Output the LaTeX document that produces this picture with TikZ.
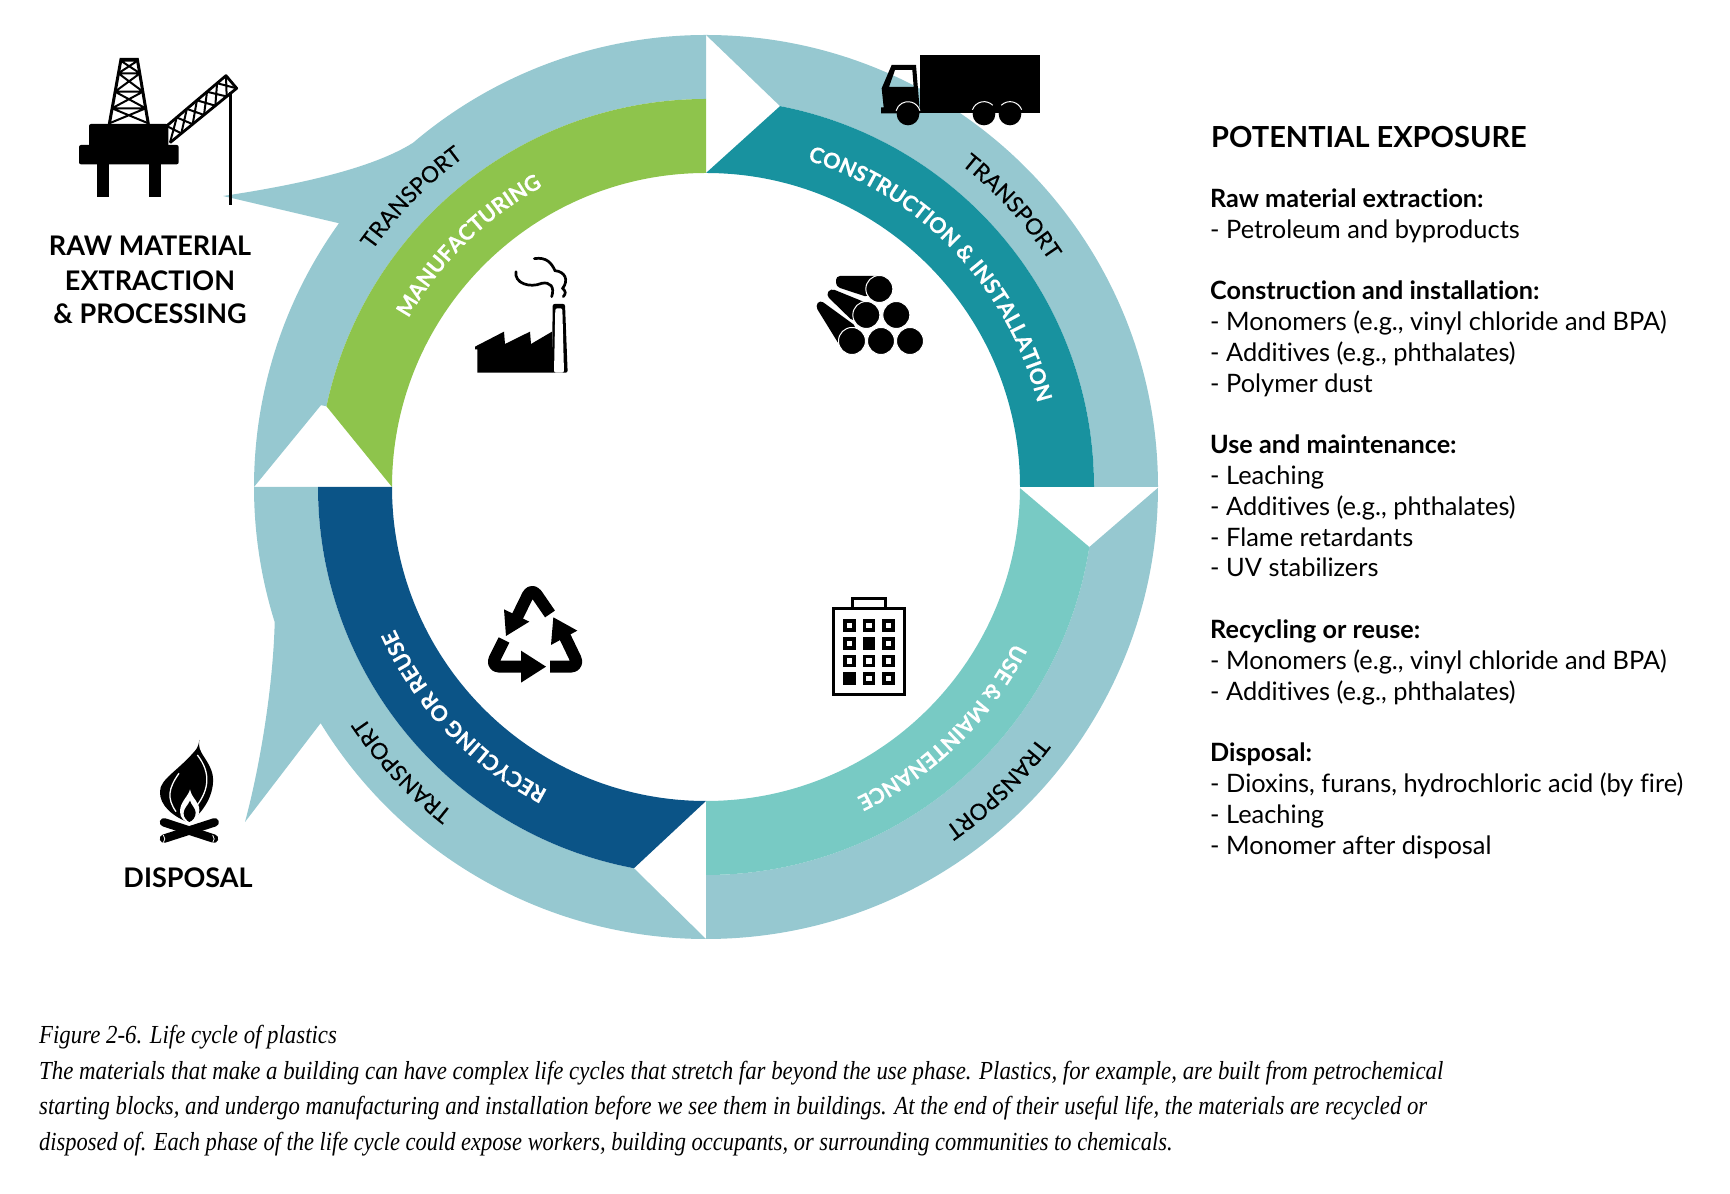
\documentclass[tikz,border=0pt]{standalone}
\usepackage{fontspec}
\setmainfont[Ligatures=NoCommon]{Lato}
\newfontfamily\capfont[FakeStretch=0.875]{Liberation Serif}
\newfontfamily\capfontw[FakeStretch=0.878]{Liberation Serif}
\newfontfamily\capfontn[FakeStretch=0.863]{Liberation Serif}
\newfontfamily\ringfont[FakeBold=0.35]{Lato}
\newfontfamily\ringfontk[FakeBold=0.2]{Lato}
\usetikzlibrary{decorations.text,calc}
\definecolor{bandc}{HTML}{96C8D0}
\definecolor{greenc}{HTML}{8EC44C}
\definecolor{tealc}{HTML}{18929F}
\definecolor{lteal}{HTML}{78CAC4}
\definecolor{navyc}{HTML}{0B5487}
\newcommand\lblw{\fontsize{21.5}{21.5}\selectfont\ringfont\bfseries\color{white}}
\newcommand\lblk{\fontsize{22.5}{22.5}\selectfont\ringfontk\color{black}}
\tikzset{
  band/.style={fill=bandc},
  ringtext/.style={decorate,decoration={text along path,text align={center},text={#1}}},
  headtxt/.style={anchor=base west,inner sep=0pt,font=\fontsize{29}{29}\selectfont\bfseries},
  subtxt/.style={anchor=base west,inner sep=0pt,font=\fontsize{25.2}{25.2}\selectfont\bfseries},
  itemtxt/.style={anchor=base west,inner sep=0pt,font=\fontsize{25.4}{25.4}\selectfont},
  captxt/.style={anchor=base west,inner sep=0pt,font=\fontsize{26}{26}\selectfont\capfont\itshape},
  captxtw/.style={anchor=base west,inner sep=0pt,font=\fontsize{26}{26}\selectfont\capfontw\itshape},
  captxtn/.style={anchor=base west,inner sep=0pt,font=\fontsize{26}{26}\selectfont\capfontn\itshape},
  iconlbl/.style={anchor=base,inner sep=0pt,font=\fontsize{27}{27}\selectfont\bfseries},
}
\begin{document}
\begin{tikzpicture}[x=1pt,y=1pt]
\useasboundingbox (0,0) rectangle (1730,1194);
% ---------- ring, centred on the cycle
\begin{scope}[shift={(706pt,707pt)}]
% transport bands
\path[band] (180:452) arc[start angle=180,end angle=144.3,radius=452] -- (-483,291)
  .. controls (-416,301) and (-336,317) .. (130.4:452)
  arc[start angle=130.4,end angle=90,radius=452] -- (90:388)
  arc[start angle=90,end angle=168,radius=388] -- (168:393.6) -- cycle;
\path[band] (90:452) arc[start angle=90,end angle=0,radius=452] -- (0:388)
  arc[start angle=0,end angle=79,radius=388] -- cycle;
\path[band] (-0.1:452) -- (-8.9:388) arc[start angle=-8.9,end angle=-90,radius=388]
  -- (-90:452) arc[start angle=-90,end angle=-0.1,radius=452] -- cycle;
\path[band] (-90:452) -- (259.3:388) arc[start angle=259.3,end angle=180,radius=388]
  -- (180:452) arc[start angle=180,end angle=197.4,radius=452]
  .. controls (-433,-203) and (-447,-283) .. (-461,-335)
  -- (211.5:452) arc[start angle=211.5,end angle=270,radius=452] -- cycle;
% coloured phases
\path[fill=greenc] (180:314) -- (168:388) arc[start angle=168,end angle=90,radius=388]
  -- (90:314) arc[start angle=90,end angle=180,radius=314] -- cycle;
\path[fill=tealc] (90:314) -- (79:388) arc[start angle=79,end angle=0,radius=388]
  -- (0:314) arc[start angle=0,end angle=90,radius=314] -- cycle;
\path[fill=lteal] (-0.2:314) -- (-8.9:388) arc[start angle=-8.9,end angle=-90,radius=388]
  -- (-90:314) arc[start angle=-90,end angle=0,radius=314] -- cycle;
\path[fill=navyc] (-90:314) -- (259.3:388) arc[start angle=259.3,end angle=180,radius=388]
  -- (180:314) arc[start angle=180,end angle=270,radius=314] -- cycle;
% curved labels
\path[ringtext={|\lblw|CONSTRUCTION {\&} INSTALLATION}] (82.5:342) arc[start angle=82.5,end angle=4.5,radius=342];
\path[ringtext={|\lblw|MANUFACTURING}] (165.5:342) arc[start angle=165.5,end angle=103.5,radius=342];
\path[ringtext={|\lblw|USE {\&} MAINTENANCE}] (-5:345) arc[start angle=-5,end angle=-86,radius=345];
\path[ringtext={|\lblw|RECYCLING OR REUSE}] (265:342) arc[start angle=265,end angle=182,radius=342];
\path[ringtext={|\lblk|TRANSPORT}] (160:409) arc[start angle=160,end angle=111,radius=409];
\path[ringtext={|\lblk|TRANSPORT}] (67.5:411) arc[start angle=67.5,end angle=17.5,radius=411];
\path[ringtext={|\lblk|TRANSPORT}] (-21:416) arc[start angle=-21,end angle=-71,radius=416];
\path[ringtext={|\lblk|TRANSPORT}] (248:412) arc[start angle=248,end angle=198,radius=412];
\end{scope}
% ---------- oil rig
\begin{scope}[shift={(40pt,1164pt)},x=0.33333pt,y=-0.33333pt]
\fill[rounded corners=2pt] (147,282) rectangle (385,350);
\fill[rounded corners=2pt] (117,345) rectangle (416,403);
\fill (170,400) rectangle (207,502);
\fill (326,400) rectangle (363,502);
\draw[line width=3pt] (208,282) -- (243,88) -- (292,88) -- (325,282);
\draw[line width=2pt] (242,92) -- (293,92) (242,92) -- (300,130) (293,92) -- (235,130)
  (235,130) -- (300,130) (235,130) -- (309,185) (300,130) -- (225,185)
  (225,185) -- (309,185) (225,185) -- (317,235) (309,185) -- (216,235)
  (216,235) -- (317,235) (216,235) -- (325,280) (317,235) -- (208,280);
\coordinate (boomA) at (380,288);
\coordinate (boomB) at (558,137);
\coordinate (boomC) at (390,338);
\coordinate (boomD) at (590,175);
\draw[line width=2.8pt,line join=round] (boomA) -- (boomB) -- (boomD) -- (boomC);
\foreach \s/\e in {0/0.17,0.17/0.34,0.34/0.51,0.51/0.68,0.68/0.85,0.85/1}{
  \draw[line width=2pt] ($(boomA)!\s!(boomB)$) -- ($(boomC)!\e!(boomD)$)
    ($(boomC)!\s!(boomD)$) -- ($(boomA)!\e!(boomB)$);}
\draw[line width=2.8pt] (572,185) -- (572,525);
\end{scope}
% ---------- truck
\begin{scope}[shift={(680pt,1174pt)},x=0.33333pt,y=-0.33333pt]
\fill (720,105) rectangle (1080,278);
\fill[even odd rule] (603,280) -- (603,262) -- (611,262) -- (605,205) -- (635,135) -- (708,135) -- (720,280) -- cycle
  (645,150) -- (697,150) -- (701,201) -- (627,201) -- cycle;
\fill (684,282) circle[radius=34];
\fill (912,282) circle[radius=34];
\fill (990,282) circle[radius=34];
\draw[white,line width=1pt] (684,282) ++(195:37) arc[start angle=195,end angle=345,radius=37];
\draw[white,line width=1pt] (912,282) ++(200:37) arc[start angle=200,end angle=315,radius=37];
\draw[white,line width=1pt] (990,282) ++(225:37) arc[start angle=225,end angle=340,radius=37];
\end{scope}
% ---------- factory, pipes, recycling, building
\begin{scope}[shift={(440pt,954pt)},x=0.33333pt,y=-0.33333pt]
% factory
\fill (105,320) -- (192,275) -- (195,312) -- (270,275) -- (273,312) -- (336,275) -- (340,398) -- (112,398) -- (112,328) -- (105,328) -- cycle;
\fill[rounded corners=2pt] (336,398) -- (338,192) -- (375,192) -- (383,398) -- cycle;
\fill[white,rounded corners=2pt] (342,398) -- (346,205) -- (367,205) -- (372,398) -- cycle;
\draw[line width=2.7pt,line cap=round] (228,95) .. controls (222,130) and (270,145) .. (305,130)
  .. controls (330,125) and (345,140) .. (335,170);
\draw[line width=2.7pt,line cap=round] (283,56) .. controls (320,50) and (335,70) .. (345,92)
  .. controls (375,95) and (387,120) .. (368,145) .. controls (378,155) and (378,160) .. (370,170);
% pipes
\fill[rounded corners=4pt] (1188,108) -- (1320,108) -- (1285,172) -- (1188,140) -- cycle;
\fill[rounded corners=4pt] (1172,145) -- (1290,193) -- (1240,245) -- (1158,165) -- cycle;
\fill[rounded corners=4pt] (1140,180) -- (1250,260) -- (1200,318) -- (1126,198) -- cycle;
\foreach \cx/\cy in {1318/147,1279/225,1369/225,1236/303,1323/303,1410/303}{
  \draw[white,line width=1pt,fill=black] (\cx,\cy) circle[radius=40.5];}
% recycling symbol
\draw[line width=12pt,line join=round,rounded corners=9pt] (330,1122) -- (275,1042) -- (232,1130);
\fill (192,1108) -- (268,1145) -- (198,1188) -- cycle;
\draw[line width=12pt,line join=round,rounded corners=9pt] (370,1180) -- (418,1280) -- (330,1280);
\fill (340,1132) -- (412,1172) -- (333,1215) -- cycle;
\draw[line width=12pt,line join=round,rounded corners=9pt] (245,1280) -- (152,1280) -- (192,1200);
\fill (243,1232) -- (318,1280) -- (243,1328) -- cycle;
% building
\draw[line width=3pt] (1181,1107) rectangle (1392,1364);
\draw[line width=3pt] (1238,1105) -- (1238,1075) -- (1336,1075) -- (1336,1105);
\foreach \yy in {1157,1210,1263,1315}{\foreach \xx in {1228,1287,1346}{
  \fill (\xx-19,\yy-19) rectangle (\xx+19,\yy+19);}}
\foreach \xx/\yy in {1228/1157,1287/1157,1346/1157,1228/1210,1346/1210,1228/1263,1287/1263,1346/1263,1287/1315,1346/1315}{
  \fill[white] (\xx-8,\yy-8) rectangle (\xx+8,\yy+8);}
\end{scope}
% ---------- campfire
\begin{scope}[shift={(140pt,464pt)},x=0.33333pt,y=-0.33333pt]
\fill (178,30) .. controls (170,70) and (207,85) .. (218,135)
  .. controls (226,190) and (192,245) .. (148,278)
  .. controls (98,260) and (58,225) .. (60,185)
  .. controls (60,148) and (110,125) .. (160,68)
  .. controls (170,58) and (176,48) .. (178,30) -- cycle;
\draw[white,line width=1.3pt] (172,75) .. controls (215,130) and (205,180) .. (172,225);
\draw[white,line width=1.3pt] (117,130) .. controls (85,175) and (80,205) .. (108,245);
\fill[white] (150,178) .. controls (145,200) and (120,215) .. (120,245) .. controls (120,265) and (135,275) .. (148,280)
  .. controls (165,275) and (178,262) .. (178,240) .. controls (178,215) and (155,205) .. (150,178) -- cycle;
\fill (150,212) .. controls (145,225) and (131,235) .. (131,250) .. controls (131,262) and (140,272) .. (148,276)
  .. controls (158,272) and (167,262) .. (167,248) .. controls (167,235) and (153,225) .. (150,212) -- cycle;
\draw[line width=8.5pt,line cap=round] (72,277) -- (222,326);
\draw[line width=8.5pt,line cap=round] (224,277) -- (72,326);
\draw[white,line width=0.8pt] (70,315) .. controls (76,322) and (76,332) .. (70,338);
\draw[white,line width=0.8pt] (218,315) .. controls (224,322) and (224,332) .. (218,338);
\end{scope}
% ---------- straight text
\begin{scope}[shift={(0pt,1194pt)},y=-1pt]
\node[iconlbl] (raw1) at (150,256) {RAW MATERIAL};
\node[iconlbl] (raw2) at (150,291) {EXTRACTION};
\node[iconlbl] (raw3) at (150,324) {\&\ PROCESSING};
\node[iconlbl] (disp) at (188,888) {DISPOSAL};
\node[headtxt] (pe) at (1211,148) {POTENTIAL EXPOSURE};
\node[subtxt] (s1) at (1210,208) {Raw material extraction:};
\node[itemtxt] (s1a) at (1210,239) {- Petroleum and byproducts};
\node[subtxt] (s2) at (1210,300) {Construction and installation:};
\node[itemtxt] (s2a) at (1210,331) {- Monomers (e.g., vinyl chloride and BPA)};
\node[itemtxt] (s2b) at (1210,362) {- Additives (e.g., phthalates)};
\node[itemtxt] (s2c) at (1210,393) {- Polymer dust};
\node[subtxt] (s3) at (1210,454) {Use and maintenance:};
\node[itemtxt] (s3a) at (1210,485) {- Leaching};
\node[itemtxt] (s3b) at (1210,516) {- Additives (e.g., phthalates)};
\node[itemtxt] (s3c) at (1210,547) {- Flame retardants};
\node[itemtxt] (s3d) at (1210,577) {- UV stabilizers};
\node[subtxt] (s4) at (1210,639) {Recycling or reuse:};
\node[itemtxt] (s4a) at (1210,670) {- Monomers (e.g., vinyl chloride and BPA)};
\node[itemtxt] (s4b) at (1210,701) {- Additives (e.g., phthalates)};
\node[subtxt] (s5) at (1210,762) {Disposal:};
\node[itemtxt] (s5a) at (1210,793) {- Dioxins, furans, hydrochloric acid (by fire)};
\node[itemtxt] (s5b) at (1210,824) {- Leaching};
\node[itemtxt] (s5c) at (1210,855) {- Monomer after disposal};
\node[captxtw] (c1) at (39,1044) {Figure 2-6. Life cycle of plastics};
\node[captxtw] (c2) at (39,1080) {The materials that make a building can have complex life cycles that stretch far beyond the use phase. Plastics, for example, are built from petrochemical};
\node[captxt] (c3) at (39,1115) {starting blocks, and undergo manufacturing and installation before we see them in buildings. At the end of their useful life, the materials are recycled or};
\node[captxtn] (c4) at (39,1151) {disposed of. Each phase of the life cycle could expose workers, building occupants, or surrounding communities to chemicals.};
\end{scope}
\end{tikzpicture}
\end{document}
